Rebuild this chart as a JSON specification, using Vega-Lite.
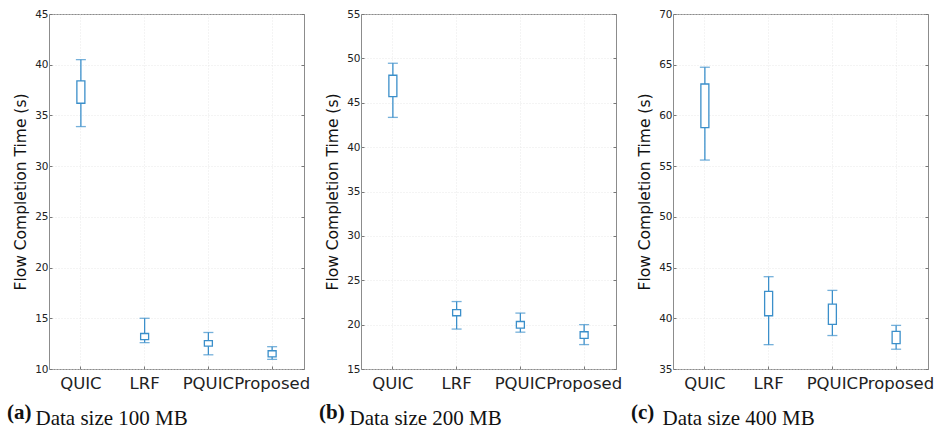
{
  "$schema": "https://vega.github.io/schema/vega-lite/v6.json",
  "padding": {"left": 6, "top": 8, "right": 2, "bottom": 2},
  "background": "white",
  "datasets": {
    "box": [
      {"panel": "a", "method": "QUIC", "low": 33.9, "q1": 36.2, "q3": 38.4, "high": 40.5},
      {"panel": "a", "method": "LRF", "low": 12.6, "q1": 12.9, "q3": 13.5, "high": 15.0},
      {"panel": "a", "method": "PQUIC", "low": 11.4, "q1": 12.25, "q3": 12.8, "high": 13.6},
      {"panel": "a", "method": "Proposed", "low": 10.95, "q1": 11.2, "q3": 11.8, "high": 12.2},
      {"panel": "b", "method": "QUIC", "low": 43.35, "q1": 45.7, "q3": 48.1, "high": 49.45},
      {"panel": "b", "method": "LRF", "low": 19.5, "q1": 21.0, "q3": 21.7, "high": 22.6},
      {"panel": "b", "method": "PQUIC", "low": 19.15, "q1": 19.6, "q3": 20.35, "high": 21.3},
      {"panel": "b", "method": "Proposed", "low": 17.75, "q1": 18.45, "q3": 19.2, "high": 20.0},
      {"panel": "c", "method": "QUIC", "low": 55.6, "q1": 58.8, "q3": 63.1, "high": 64.75},
      {"panel": "c", "method": "LRF", "low": 37.4, "q1": 40.25, "q3": 42.65, "high": 44.1},
      {"panel": "c", "method": "PQUIC", "low": 38.3, "q1": 39.4, "q3": 41.4, "high": 42.75},
      {"panel": "c", "method": "Proposed", "low": 36.95, "q1": 37.5, "q3": 38.7, "high": 39.3}
    ]
  },
  "config": {
    "view": {"stroke": "#8c8c8c", "strokeWidth": 1},
    "axis": {
      "domain": false,
      "tickColor": "#777777",
      "tickSize": -3,
      "labelFont": "DejaVu Sans",
      "labelColor": "#222222",
      "gridColor": "#e2e2e2",
      "gridDash": [1, 2],
      "gridWidth": 0.8,
      "titleFont": "DejaVu Sans",
      "titleFontWeight": "normal",
      "titleColor": "#111111"
    },
    "title": {"font": "Liberation Serif", "fontSize": 21, "fontWeight": "bold", "color": "#111111"}
  },
  "spacing": 7,
  "hconcat": [
    {
      "width": 255, "height": 355,
      "title": {"text": "(a)", "orient": "bottom", "anchor": "start", "frame": "group", "dx": -42, "offset": -26},
      "data": {"name": "box"},
      "transform": [{"filter": "datum.panel === 'a'"}],
      "encoding": {
        "x": {"field": "method", "type": "nominal", "sort": ["QUIC", "LRF", "PQUIC", "Proposed"],
          "axis": {"title": "Data size 100 MB", "titleFont": "Liberation Serif", "titleFontSize": 21, "titleAlign": "left", "titleAnchor": "start", "titleX": -14, "titleY": 55, "titleBaseline": "alphabetic", "labelAngle": 0, "labelFontSize": 16.5, "labelPadding": 9, "bandPosition": 0.5, "grid": true}}
      },
      "resolve": {"axis": {"y": "independent"}},
      "layer": [
        {"mark": {"type": "rule", "color": "#3b8fca", "strokeWidth": 1.3},
         "encoding": {"y": {"field": "low", "type": "quantitative", "scale": {"domain": [10, 45], "nice": false},
           "axis": {"title": "Flow Completion Time (s)", "titleFontSize": 15.5, "titlePadding": 6, "labelFontSize": 10.5, "labelPadding": 4, "values": [10,15,20,25,30,35,40,45], "grid": true}},
           "y2": {"field": "high"}}},
        {"mark": {"type": "bar", "size": 8, "fill": "white", "stroke": "#3b8fca", "strokeWidth": 1.3},
         "encoding": {"y": {"field": "q1", "type": "quantitative", "axis": null}, "y2": {"field": "q3"}}},
        {"mark": {"type": "tick", "color": "#3b8fca", "size": 10, "thickness": 1.3},
         "encoding": {"y": {"field": "low", "type": "quantitative", "axis": null}}},
        {"mark": {"type": "tick", "color": "#3b8fca", "size": 10, "thickness": 1.3},
         "encoding": {
           "y": {"field": "high", "type": "quantitative", "axis": {"orient": "right", "labels": false, "title": null, "grid": false, "values": [10,15,20,25,30,35,40,45]}}}}
      ]
    },
    {
      "width": 255, "height": 355,
      "title": {"text": "(b)", "orient": "bottom", "anchor": "start", "frame": "group", "dx": -42, "offset": -26},
      "data": {"name": "box"},
      "transform": [{"filter": "datum.panel === 'b'"}],
      "encoding": {
        "x": {"field": "method", "type": "nominal", "sort": ["QUIC", "LRF", "PQUIC", "Proposed"],
          "axis": {"title": "Data size 200 MB", "titleFont": "Liberation Serif", "titleFontSize": 21, "titleAlign": "left", "titleAnchor": "start", "titleX": -12, "titleY": 55, "titleBaseline": "alphabetic", "labelAngle": 0, "labelFontSize": 16.5, "labelPadding": 9, "bandPosition": 0.5, "grid": true}}
      },
      "resolve": {"axis": {"y": "independent"}},
      "layer": [
        {"mark": {"type": "rule", "color": "#3b8fca", "strokeWidth": 1.3},
         "encoding": {"y": {"field": "low", "type": "quantitative", "scale": {"domain": [15, 55], "nice": false},
           "axis": {"title": "Flow Completion Time (s)", "titleFontSize": 15.5, "titlePadding": 6, "labelFontSize": 10.5, "labelPadding": 4, "values": [15,20,25,30,35,40,45,50,55], "grid": true}},
           "y2": {"field": "high"}}},
        {"mark": {"type": "bar", "size": 8, "fill": "white", "stroke": "#3b8fca", "strokeWidth": 1.3},
         "encoding": {"y": {"field": "q1", "type": "quantitative", "axis": null}, "y2": {"field": "q3"}}},
        {"mark": {"type": "tick", "color": "#3b8fca", "size": 10, "thickness": 1.3},
         "encoding": {"y": {"field": "low", "type": "quantitative", "axis": null}}},
        {"mark": {"type": "tick", "color": "#3b8fca", "size": 10, "thickness": 1.3},
         "encoding": {
           "y": {"field": "high", "type": "quantitative", "axis": {"orient": "right", "labels": false, "title": null, "grid": false, "values": [15,20,25,30,35,40,45,50,55]}}}}
      ]
    },
    {
      "width": 255, "height": 355,
      "title": {"text": "(c)", "orient": "bottom", "anchor": "start", "frame": "group", "dx": -42, "offset": -26},
      "data": {"name": "box"},
      "transform": [{"filter": "datum.panel === 'c'"}],
      "encoding": {
        "x": {"field": "method", "type": "nominal", "sort": ["QUIC", "LRF", "PQUIC", "Proposed"],
          "axis": {"title": "Data size 400 MB", "titleFont": "Liberation Serif", "titleFontSize": 21, "titleAlign": "left", "titleAnchor": "start", "titleX": -11, "titleY": 55, "titleBaseline": "alphabetic", "labelAngle": 0, "labelFontSize": 16.5, "labelPadding": 9, "bandPosition": 0.5, "grid": true}}
      },
      "resolve": {"axis": {"y": "independent"}},
      "layer": [
        {"mark": {"type": "rule", "color": "#3b8fca", "strokeWidth": 1.3},
         "encoding": {"y": {"field": "low", "type": "quantitative", "scale": {"domain": [35, 70], "nice": false},
           "axis": {"title": "Flow Completion Time (s)", "titleFontSize": 15.5, "titlePadding": 6, "labelFontSize": 10.5, "labelPadding": 4, "values": [35,40,45,50,55,60,65,70], "grid": true}},
           "y2": {"field": "high"}}},
        {"mark": {"type": "bar", "size": 8, "fill": "white", "stroke": "#3b8fca", "strokeWidth": 1.3},
         "encoding": {"y": {"field": "q1", "type": "quantitative", "axis": null}, "y2": {"field": "q3"}}},
        {"mark": {"type": "tick", "color": "#3b8fca", "size": 10, "thickness": 1.3},
         "encoding": {"y": {"field": "low", "type": "quantitative", "axis": null}}},
        {"mark": {"type": "tick", "color": "#3b8fca", "size": 10, "thickness": 1.3},
         "encoding": {
           "y": {"field": "high", "type": "quantitative", "axis": {"orient": "right", "labels": false, "title": null, "grid": false, "values": [35,40,45,50,55,60,65,70]}}}}
      ]
    }
  ]
}
